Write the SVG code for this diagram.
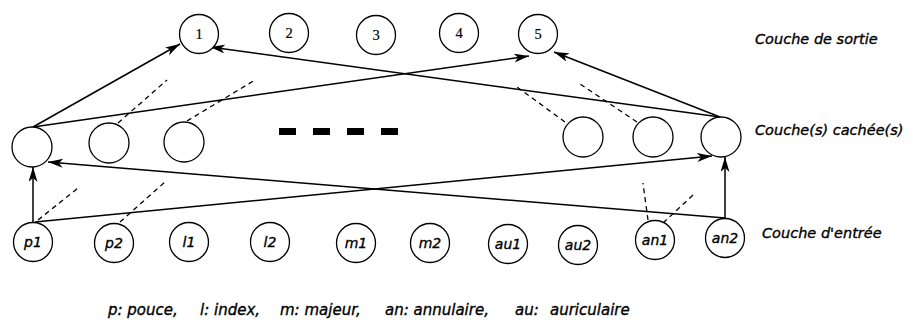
<svg xmlns="http://www.w3.org/2000/svg" width="913" height="322" viewBox="0 0 913 322">
  <style>
    .node { fill: #fff; stroke: #000; stroke-width: 1.3; }
    .num { font-family: "Liberation Serif", "Times New Roman", serif; font-size: 14.5px; text-anchor: middle; fill: #000; stroke: #000; stroke-width: 0.2; }
    .lbl { font-family: "DejaVu Sans", "Liberation Sans", sans-serif; font-style: italic; font-size: 14px; text-anchor: middle; fill: #000; stroke: #000; stroke-width: 0.35; }
    .layer { font-family: "DejaVu Sans", "Liberation Sans", sans-serif; font-style: italic; font-size: 14.5px; fill: #000; stroke: #000; stroke-width: 0.35; }
    .legend { font-family: "DejaVu Sans", "Liberation Sans", sans-serif; font-style: italic; font-size: 15px; fill: #000; stroke: #000; stroke-width: 0.35; }
    .edge { stroke: #000; stroke-width: 1.5; fill: none; marker-end: url(#arrow); }
    .stub { stroke: #000; stroke-width: 1.3; fill: none; stroke-dasharray: 5 4; }
    .ellipsis { fill: #000; }
  </style>
  <defs>
    <marker id="arrow" markerUnits="userSpaceOnUse" markerWidth="16" markerHeight="10" refX="15" refY="4.5" orient="auto">
      <path d="M0,0 L15,4.5 L0,9 L4,4.5 z" fill="#000"/>
    </marker>
  </defs>
  <rect width="913" height="322" fill="#fff"/>

  <!-- connectors -->
  <g id="connectors">
    <line class="edge" x1="33" y1="127" x2="180" y2="44"/>
    <line class="edge" x1="33" y1="127" x2="529" y2="56"/>
    <line class="edge" x1="720" y1="117" x2="554" y2="52"/>
    <line class="edge" x1="720" y1="117" x2="210" y2="47"/>
    <line class="edge" x1="33" y1="222" x2="33" y2="167"/>
    <line class="edge" x1="725" y1="218" x2="725" y2="157"/>
    <line class="edge" x1="725" y1="218" x2="48" y2="162"/>
    <line class="edge" x1="35" y1="222" x2="712" y2="156"/>
    <!-- partial connections -->
    <line class="stub" x1="118" y1="123" x2="167" y2="80"/>
    <line class="stub" x1="187" y1="121" x2="255" y2="80"/>
    <line class="stub" x1="565" y1="122" x2="517" y2="87"/>
    <line class="stub" x1="637" y1="122" x2="577" y2="82"/>
    <line class="stub" x1="38" y1="220" x2="78" y2="188"/>
    <line class="stub" x1="120" y1="222" x2="165" y2="182"/>
    <line class="stub" x1="648" y1="220" x2="643" y2="183"/>
    <line class="stub" x1="663" y1="223" x2="693" y2="195"/>
  </g>

  <!-- output layer -->
  <g id="out1"><circle class="node" cx="199" cy="34" r="19.5"/><text class="num" x="199" y="39">1</text></g>
  <g id="out2"><circle class="node" cx="289" cy="33" r="19.5"/><text class="num" x="289" y="38">2</text></g>
  <g id="out3"><circle class="node" cx="376" cy="35" r="19.5"/><text class="num" x="376" y="40">3</text></g>
  <g id="out4"><circle class="node" cx="459" cy="33" r="19.5"/><text class="num" x="459" y="38">4</text></g>
  <g id="out5"><circle class="node" cx="538" cy="34" r="19.5"/><text class="num" x="538" y="39">5</text></g>

  <!-- hidden layer -->
  <g id="h1"><circle class="node" cx="32" cy="147" r="20"/></g>
  <g id="h2"><circle class="node" cx="109" cy="143" r="20"/></g>
  <g id="h3"><circle class="node" cx="184" cy="142" r="20"/></g>
  <g id="h-more">
    <rect class="ellipsis" x="279" y="128" width="17" height="7"/>
    <rect class="ellipsis" x="313" y="128" width="17" height="7"/>
    <rect class="ellipsis" x="347" y="128" width="17" height="7"/>
    <rect class="ellipsis" x="381" y="128" width="17" height="7"/>
  </g>
  <g id="h4"><circle class="node" cx="583" cy="137" r="20"/></g>
  <g id="h5"><circle class="node" cx="653" cy="137" r="20"/></g>
  <g id="h6"><circle class="node" cx="721" cy="137" r="20"/></g>

  <!-- input layer -->
  <g id="p1"><circle class="node" cx="33" cy="242" r="19.5"/><text class="lbl" x="33" y="247">p1</text></g>
  <g id="p2"><circle class="node" cx="114" cy="243" r="19.5"/><text class="lbl" x="114" y="248">p2</text></g>
  <g id="l1"><circle class="node" cx="189" cy="242" r="19.5"/><text class="lbl" x="189" y="247">l1</text></g>
  <g id="l2"><circle class="node" cx="270" cy="242" r="19.5"/><text class="lbl" x="270" y="247">l2</text></g>
  <g id="m1"><circle class="node" cx="356" cy="243" r="19.5"/><text class="lbl" x="356" y="248">m1</text></g>
  <g id="m2"><circle class="node" cx="430" cy="243" r="19.5"/><text class="lbl" x="430" y="248">m2</text></g>
  <g id="au1"><circle class="node" cx="508" cy="244" r="19.5"/><text class="lbl" x="508" y="249">au1</text></g>
  <g id="au2"><circle class="node" cx="578" cy="245" r="19.5"/><text class="lbl" x="578" y="250">au2</text></g>
  <g id="an1"><circle class="node" cx="655" cy="240" r="19.5"/><text class="lbl" x="655" y="245">an1</text></g>
  <g id="an2"><circle class="node" cx="725" cy="238" r="19.5"/><text class="lbl" x="725" y="243">an2</text></g>

  <!-- layer names -->
  <g id="layer-labels">
    <text class="layer" x="755" y="44">Couche de sortie</text>
    <text class="layer" x="755" y="135">Couche(s) cachée(s)</text>
    <text class="layer" x="762" y="238">Couche d'entrée</text>
  </g>

  <!-- legend -->
  <g id="legend">
    <text class="legend" x="108" y="315">p: pouce,</text>
    <text class="legend" x="200" y="315">l: index,</text>
    <text class="legend" x="280" y="315">m: majeur,</text>
    <text class="legend" x="385" y="315">an: annulaire,</text>
    <text class="legend" x="515" y="315">au:<tspan x="550">auriculaire</tspan></text>
  </g>
</svg>
